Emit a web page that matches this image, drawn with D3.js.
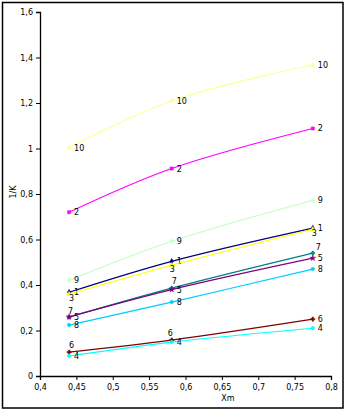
<!DOCTYPE html>
<html><head><meta charset="utf-8">
<script src="https://cdn.jsdelivr.net/npm/d3@7"></script>
<style>body{margin:0;background:#fff}svg{display:block}text{font-family:"DejaVu Sans",Verdana,sans-serif}</style>
</head><body><div id="c"></div>
<script>
const xPoints = [0.44, 0.581, 0.775];
const seriesNames = ["10","2","9","1","3","7","5","8","6","4"];
const s10 = [1.004, 1.21, 1.368];
const s2  = [0.72, 0.912, 1.088];
const s9  = [0.421, 0.592, 0.772];
const s1  = [0.368, 0.504, 0.65];
const s3  = [0.36, 0.487, 0.645];
const s7  = [0.259, 0.386, 0.54];
const s5  = [0.26, 0.38, 0.518];
const s8  = [0.224, 0.325, 0.47];
const s6  = [0.105, 0.158, 0.25];
const s4  = [0.088, 0.149, 0.21];
const colors = ["#FFFF99","#FF00FF","#CCFFCC","#000080","#FFFF00","#008080","#800080","#00CCFF","#800000","#00FFFF"];
const yTicks = [0,0.2,0.4,0.6,0.8,1,1.2,1.4,1.6];
const xTicks = [0.4,0.45,0.5,0.55,0.6,0.65,0.7,0.75,0.8];
const xTitle = "Xm", yTitle = "1/K";

const values = [s10,s2,s9,s1,s3,s7,s5,s8,s6,s4];
const W=347,H=412;
const svg=d3.select("#c").append("svg").attr("width",W).attr("height",H);
svg.append("rect").attr("x",2.5).attr("y",2.5).attr("width",340.5).attr("height",405.5).attr("fill","#fff").attr("stroke","#000").attr("stroke-width",1.5);

const x=d3.scaleLinear().domain([0.4,0.8]).range([40,331]);
const y=d3.scaleLinear().domain([0,1.6]).range([376,12]);
const fmt=d=>String(+d.toFixed(2)).replace(".",",");

const gx=svg.append("g").attr("transform","translate(0,376)")
  .call(d3.axisBottom(x).tickValues(xTicks).tickFormat(fmt).tickSize(4).tickPadding(4));
const gy=svg.append("g").attr("transform","translate(40,0)")
  .call(d3.axisLeft(y).tickValues(yTicks).tickFormat(fmt).tickSize(4).tickPadding(3));
[gx,gy].forEach(g=>{g.select(".domain").attr("stroke","#000").attr("stroke-width",1.3);
  g.selectAll(".tick line").attr("stroke","#000");
  g.selectAll("text").attr("font-size",8).attr("fill","#000").attr("font-family","DejaVu Sans");});
svg.append("text").attr("x",228).attr("y",401).attr("text-anchor","middle").attr("font-size",8).text(xTitle);
svg.append("text").attr("transform","translate(16,192) rotate(-90)").attr("text-anchor","middle").attr("font-size",8).text(yTitle);

const line=d3.line().x((d,i)=>x(xPoints[i])).y(d=>y(d)).curve(d3.curveCatmullRom.alpha(0.5));
const symbols=[d3.symbolTriangle,d3.symbolSquare,d3.symbolCross,d3.symbolDiamond,d3.symbolTriangle,d3.symbolCross,d3.symbolStar,d3.symbolCircle,d3.symbolCross,d3.symbolCircle];
const defOff=[5,3];
const offsets={
  "3":[[0,7],[-2,7],[-1,7]],
  "7":[[-1,-3],[0,-4],[3,-3]],
  "6":[[0,-4],[-4,-4],[5,3]]
};
values.forEach((vals,si)=>{
  const name=seriesNames[si], col=colors[si];
  svg.append("path").datum(vals).attr("d",line).attr("fill","none").attr("stroke",col).attr("stroke-width",1.2);
  vals.forEach((v,i)=>{
    svg.append("path").attr("d",d3.symbol().type(symbols[si]).size(10)())
      .attr("transform",`translate(${x(xPoints[i])},${y(v)})`).attr("fill",col).attr("stroke",col).attr("stroke-width",0.5);
    const o=(offsets[name]||[defOff,defOff,defOff])[i];
    svg.append("text").attr("x",x(xPoints[i])+o[0]).attr("y",y(v)+o[1]).attr("font-size",8).attr("fill","#000").text(name);
  });
});
</script></body></html>
